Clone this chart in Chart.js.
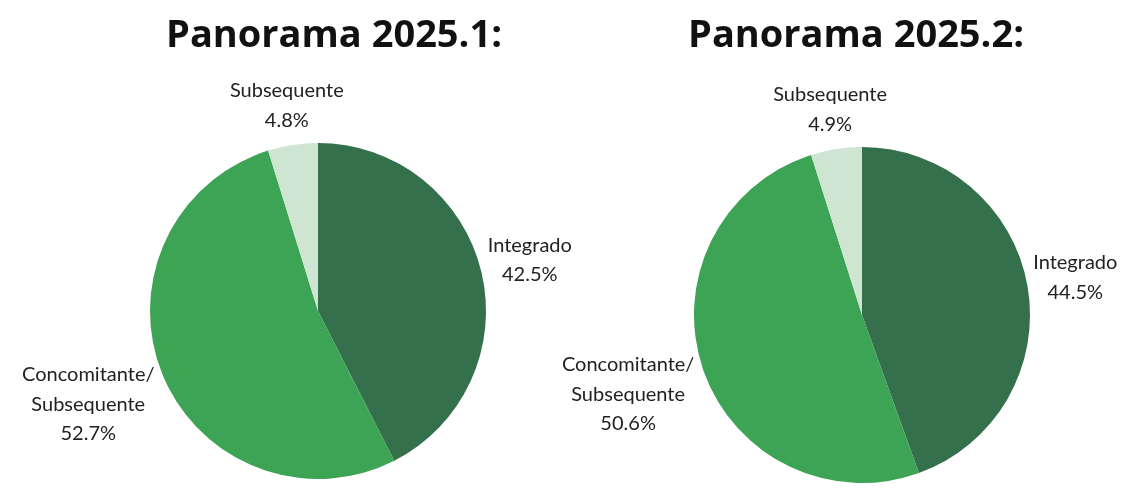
<!DOCTYPE html>
<html>
<head>
<meta charset="utf-8">
<script src="https://cdn.jsdelivr.net/npm/chart.js@4.4.1/dist/chart.umd.min.js"></script>
<style>
  html, body { margin:0; padding:0; background:#fff; overflow:hidden; }
  .panel { position:absolute; top:0; }
</style>
</head>
<body>
<canvas id="pie1" class="panel" width="600" height="489" style="left:0"></canvas>
<canvas id="pie2" class="panel" width="588" height="489" style="left:540px"></canvas>
<script>
// data
const categories = [['Integrado'], ['Concomitante/', 'Subsequente'], ['Subsequente']];
const panorama1 = [42.5, 52.7, 4.8];
const panorama2 = [44.5, 50.6, 4.9];
const titles = ['Panorama 2025.1:', 'Panorama 2025.2:'];
const sliceColors = ['#33704b', '#3ea455', '#cde5d1'];

// title drawn at a chosen x so it can sit off the pie centre
const panelTitle = {
  id: 'panelTitle',
  afterDraw(chart, args, opts) {
    const ctx = chart.ctx;
    ctx.save();
    ctx.font = '700 38px "Open Sans"';
    ctx.fillStyle = '#111';
    ctx.textAlign = 'center';
    ctx.textBaseline = 'middle';
    ctx.fillText(opts.text, opts.x, opts.y);
    ctx.restore();
  }
};

// name + percentage outside each slice
const sliceLabels = {
  id: 'sliceLabels',
  afterDatasetsDraw(chart, args, opts) {
    const ctx = chart.ctx;
    const meta = chart.getDatasetMeta(0);
    const values = chart.data.datasets[0].data;
    const lh = 29.5;
    ctx.save();
    ctx.font = '20px Lato';
    ctx.fillStyle = '#222';
    ctx.textAlign = 'center';
    ctx.textBaseline = 'middle';
    meta.data.forEach((arc, i) => {
      const p = arc.getProps(['x', 'y', 'startAngle', 'endAngle', 'outerRadius'], true);
      const mid = (p.startAngle + p.endAngle) / 2;
      const dx = Math.cos(mid), dy = Math.sin(mid);
      const lines = [].concat(chart.data.labels[i], values[i].toFixed(1) + '%');
      const w = Math.max(...lines.map(l => ctx.measureText(l).width));
      const h = lines.length * lh;
      // push the text block out along the slice's middle direction
      const d = p.outerRadius + opts.gap + Math.abs(dx) * w / 2 + Math.abs(dy) * h / 2;
      const cx = p.x + dx * d;
      const cy = p.y + dy * d;
      lines.forEach((l, k) => {
        ctx.fillText(l, cx, cy - h / 2 + lh / 2 + k * lh);
      });
    });
    ctx.restore();
  }
};

function makePie(id, values, title, titleX, padding) {
  new Chart(document.getElementById(id), {
    type: 'pie',
    data: {
      labels: categories,
      datasets: [{ data: values, backgroundColor: sliceColors, borderWidth: 0 }]
    },
    options: {
      responsive: false,
      animation: false,
      devicePixelRatio: 1,
      layout: { padding },
      plugins: {
        legend: { display: false },
        tooltip: { enabled: false },
        panelTitle: { text: title, x: titleX, y: 36 },
        sliceLabels: { gap: 2 }
      }
    },
    plugins: [panelTitle, sliceLabels]
  });
}

makePie('pie1', panorama1, titles[0], 334, { left: 150, right: 114, top: 143, bottom: 10 });
makePie('pie2', panorama2, titles[1], 316, { left: 154, right: 98, top: 147, bottom: 6 });
</script>
</body>
</html>
